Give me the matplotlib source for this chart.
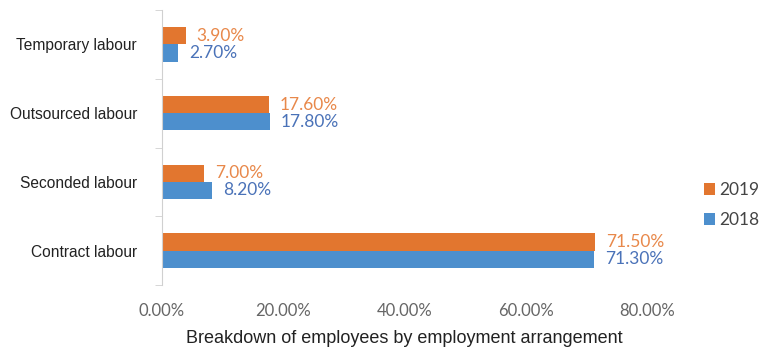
import matplotlib.pyplot as plt
import numpy as np

# Breakdown of employees by employment arrangement
categories = ['Contract labour', 'Seconded labour', 'Outsourced labour', 'Temporary labour']
values_2019 = [71.5, 7.0, 17.6, 3.9]
values_2018 = [71.3, 8.2, 17.8, 2.7]
xticks = [0, 20, 40, 60, 80]

orange = '#E2762F'
blue = '#4D8FCD'
orange_txt = '#E8884A'
blue_txt = '#4A72B8'

fig = plt.figure(figsize=(7.63, 3.48), dpi=100)
ax = fig.add_axes([162 / 763, 63 / 348, (647 - 162) / 763, 275 / 348])

y = np.arange(len(categories))
h = 0.25
ax.barh(y - h / 2, values_2018, height=h, color=blue, label='2018')
ax.barh(y + h / 2, values_2019, height=h, color=orange, label='2019')

for yi, v in zip(y, values_2019):
    ax.annotate(f'{v:.2f}%', (v, yi + h / 2), xytext=(8, 0), textcoords='offset points',
                va='center', ha='left', color=orange_txt, fontsize=12.5, family='Lato')
for yi, v in zip(y, values_2018):
    ax.annotate(f'{v:.2f}%', (v, yi - h / 2), xytext=(8, 0), textcoords='offset points',
                va='center', ha='left', color=blue_txt, fontsize=12.5, family='Lato')

ax.set_xlim(0, 80)
ax.set_ylim(-0.5, len(categories) - 0.5)
ax.set_xticks(xticks)
ax.set_xticklabels([f'{t:.2f}%' for t in xticks], color='#666666', fontsize=12, family='Lato')
ax.tick_params(axis='x', length=0, pad=13)

ax.set_yticks(y)
ax.set_yticklabels(categories, fontsize=11.2, family='Liberation Sans', color='#222222')
ax.set_yticks(np.arange(-0.5, len(categories)), minor=True)
ax.tick_params(axis='y', which='major', length=0, pad=18)
ax.tick_params(axis='y', which='minor', length=5, color='#D0D0D0')

for s in ['top', 'right', 'bottom']:
    ax.spines[s].set_visible(False)
ax.spines['left'].set_color('#D0D0D0')

ax.set_xlabel('Breakdown of employees by employment arrangement', fontsize=13,
              family='Liberation Sans', color='#222222', labelpad=8)

handles, labels = ax.get_legend_handles_labels()
leg = fig.legend(handles[::-1], labels[::-1], loc='center left', bbox_to_anchor=(704 / 763, 1 - 205 / 348),
                 frameon=False, handlelength=0.65, handleheight=0.65, handletextpad=0.2,
                 borderpad=0, borderaxespad=0,
                 labelspacing=0.8, prop={'family': 'Lato', 'size': 12.5})
for t in leg.get_texts():
    t.set_color('#444444')

plt.savefig('out.png', dpi=100)
